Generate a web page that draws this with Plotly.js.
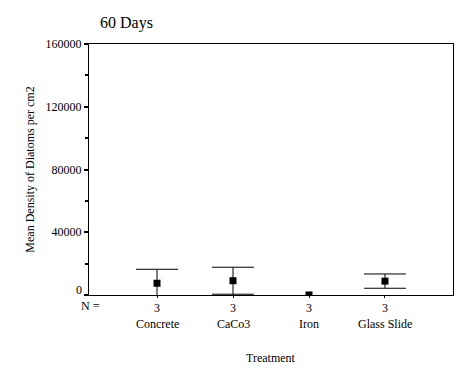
<!DOCTYPE html>
<html><head><meta charset="utf-8">
<script src="https://cdn.plot.ly/plotly-3.0.1.min.js"></script>
<style>body{margin:0;background:#fff}#c{width:472px;height:377px}</style>
</head><body><div id="c"></div>
<script>
const categories = ["Concrete", "CaCo3", "Iron", "Glass Slide"];
const means = [7500, 9100, 0, 8850];
const errors = [8900, 8600, null, 4550];
const nCounts = ["3", "3", "3", "3"];
const yTicks = [0, 40000, 80000, 120000, 160000];
const yTickText = ["", "40000", "80000", "120000", "160000"];

const xs = categories.map((c, i) => i);
const F = "Liberation Serif";

const withErr = xs.filter(i => errors[i] !== null);

const traceErr = {
  type: "scatter", mode: "markers",
  x: withErr, y: withErr.map(i => means[i]),
  marker: {symbol: "square", size: 7, color: "rgba(0,0,0,0)"},
  error_y: {type: "data", array: withErr.map(i => errors[i]), visible: true, color: "#000", thickness: 1, width: 21},
  cliponaxis: true, showlegend: false, hoverinfo: "none"
};
const trace = {
  type: "scatter", mode: "markers",
  x: xs, y: means,
  marker: {symbol: "square", size: 7, color: "#000"},
  cliponaxis: true, showlegend: false, hoverinfo: "none"
};

const annotations = categories.map((c, i) => ({
  x: i, y: 0, xref: "x", yref: "paper", yshift: -38, text: c, showarrow: false,
  font: {family: F, size: 12, color: "#000"}
}));
annotations.push({x: 0, y: 0, xref: "paper", yref: "paper", xanchor: "center", yanchor: "middle", xshift: 1, yshift: -11, text: "N =",
  showarrow: false, font: {family: F, size: 12, color: "#000"}});
annotations.push({x: 0, y: yTicks[0], xref: "paper", yref: "y", xshift: -5, yshift: 5, xanchor: "right", yanchor: "middle", text: String(yTicks[0]),
  showarrow: false, font: {family: F, size: 12, color: "#000"}});
annotations.push({x: 0.5, y: 0, xref: "paper", yref: "paper", yshift: -72, text: "Treatment",
  showarrow: false, font: {family: F, size: 12, color: "#000"}});

const layout = {
  width: 472, height: 377,
  margin: {l: 89, r: 19, t: 44, b: 82},
  paper_bgcolor: "#fff", plot_bgcolor: "#fff",
  font: {family: F, size: 12, color: "#000"},
  title: {text: "60 Days", x: 100/472, xanchor: "left", xref: "container", y: 1 - 22/377, yanchor: "middle", yref: "container",
          font: {family: F, size: 16, color: "#000"}},
  xaxis: {range: [-0.895, 3.895], tickvals: xs, ticktext: nCounts, showgrid: false, zeroline: false,
          showline: true, linecolor: "#000", linewidth: 1, mirror: true,
          ticks: "outside", ticklen: 2, tickcolor: "#000", tickfont: {family: F, size: 12, color: "#000"}},
  yaxis: {range: [0, 160000], tickvals: yTicks, ticktext: yTickText, showgrid: false, zeroline: false,
          showline: true, linecolor: "#000", linewidth: 1, mirror: true,
          ticks: "outside", ticklen: 4, tickcolor: "#000", tickwidth: 2,
          minor: {dtick: 20000, ticks: "outside", ticklen: 3, tickcolor: "#000", showgrid: false},
          tickfont: {family: F, size: 12, color: "#000"},
          title: {text: "Mean Density of Diatoms per cm2", font: {family: F, size: 12, color: "#000"}, standoff: 8}},
  annotations: annotations
};

Plotly.newPlot("c", [traceErr, trace], layout, {staticPlot: true, displayModeBar: false});
</script>
</body></html>
